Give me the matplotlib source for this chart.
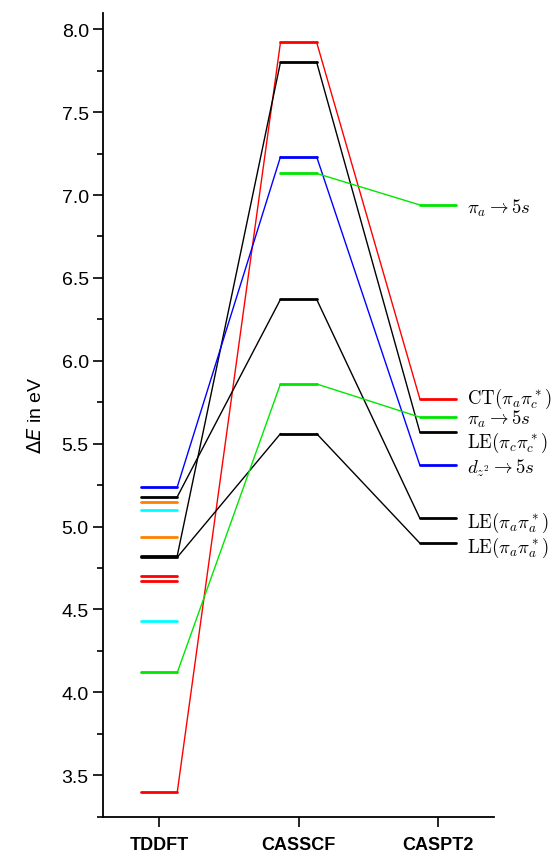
import numpy as np
import matplotlib.pyplot as plt

plt.rcParams['font.family'] = ['Liberation Sans', 'DejaVu Sans']
plt.rcParams['mathtext.fontset'] = 'cm'

methods = ['TDDFT', 'CASSCF', 'CASPT2']

# states followed through the three methods (nan = not computed)
state_colors = ['red', 'black', 'black', 'black', '#0000ff', '#00e600', '#00e600']
state_tddft = [3.40, 4.825, 4.815, 5.18, 5.24, 4.12, np.nan]
state_casscf = [7.92, 7.80, 5.56, 6.37, 7.23, 5.86, 7.13]
state_caspt2 = [5.77, 5.57, 4.90, 5.05, 5.37, 5.66, 6.94]
state_labels = [r'$\mathrm{CT}(\pi_a\pi_c^*)$', r'$\mathrm{LE}(\pi_c\pi_c^*)$',
                r'$\mathrm{LE}(\pi_a\pi_a^*)$', r'$\mathrm{LE}(\pi_a\pi_a^*)$',
                r'$d_{z^2}\rightarrow 5s$', r'$\pi_a\rightarrow 5s$',
                r'$\pi_a\rightarrow 5s$']

# TDDFT states without a match
extra_tddft = [5.15, 4.94, 5.10, 4.43, 4.70, 4.67]
extra_colors = ['#ff8000', '#ff8000', '#00ffff', '#00ffff', 'red', 'red']

hw = 0.13  # half width of a level

fig = plt.figure(figsize=(5.56, 8.53), dpi=100)
ax = fig.add_axes([0.186, 0.0414, 0.702, 0.9426])

for e, c in zip(extra_tddft, extra_colors):
    ax.plot([1 - hw, 1 + hw], [e, e], color=c, lw=2, solid_capstyle='round')

for i in range(len(state_colors)):
    levels = [state_tddft[i], state_casscf[i], state_caspt2[i]]
    c = state_colors[i]
    for k, e in enumerate(levels):
        if np.isnan(e):
            continue
        x = k + 1
        ax.plot([x - hw, x + hw], [e, e], color=c, lw=2, solid_capstyle='round')
        if k > 0 and not np.isnan(levels[k - 1]):
            ax.plot([x - 1 + hw, x - hw], [levels[k - 1], e], color=c, lw=1.0)

# spread the CASPT2 labels a little so they don't run into each other
order = np.argsort(state_caspt2)[::-1]
ly = np.array(state_caspt2, dtype=float)[order]
gap = 0.132
for _ in range(50):
    for j in range(len(ly) - 1):
        d = ly[j] - ly[j + 1]
        if d < gap:
            ly[j] += (gap - d) / 2
            ly[j + 1] -= (gap - d) / 2
for j, i in enumerate(order):
    ax.text(3.21, ly[j], state_labels[i], fontsize=13.5,
            va='center_baseline', ha='left')

ax.set_xlim(0.6, 3.4)
ax.set_ylim(3.3, 8.1)
ax.set_xticks([1, 2, 3])
ax.set_xticklabels(methods, fontweight='bold', fontsize=13)
ax.set_yticks(np.arange(3.5, 8.01, 0.5))
ax.set_yticks(np.arange(3.25, 8.1, 0.25), minor=True)
ax.tick_params(axis='y', labelsize=14, length=7, width=1.2)
ax.tick_params(axis='y', which='minor', length=4, width=1.2)
ax.tick_params(axis='x', length=7, width=1.2, pad=7)
ax.yaxis.set_major_formatter(plt.FormatStrFormatter('%.1f'))
ax.spines['top'].set_visible(False)
ax.spines['right'].set_visible(False)
ax.spines['left'].set_linewidth(1.3)
ax.spines['bottom'].set_linewidth(1.3)
ax.set_ylabel(r'$\Delta E$ in eV', fontsize=14, labelpad=12,
              math_fontfamily='dejavusans')

fig.savefig('out.png', dpi=100)
